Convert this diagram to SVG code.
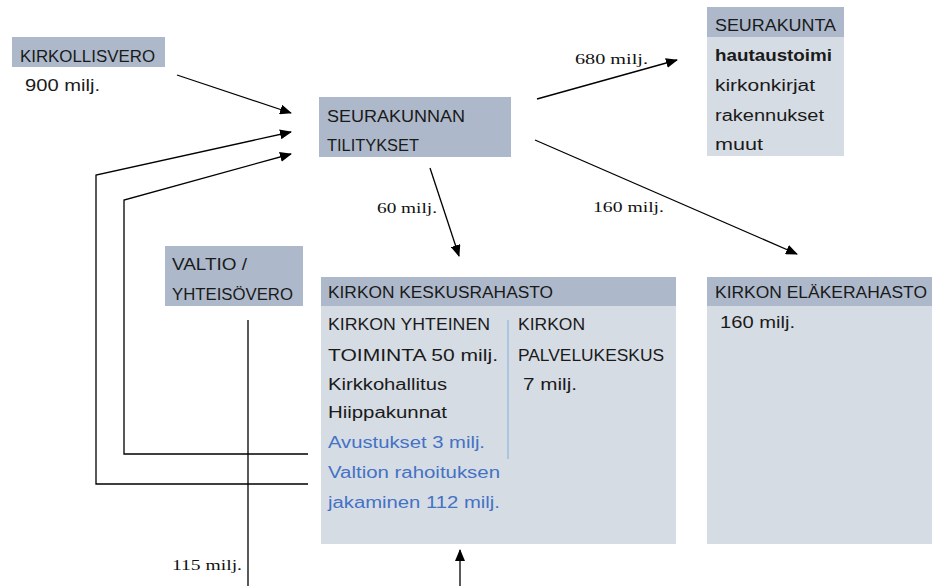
<svg xmlns="http://www.w3.org/2000/svg" width="932" height="586" viewBox="0 0 932 586">
<style>
.hd{fill:#adb9ca}
.bd{fill:#d6dce4}
.t{font-family:"Liberation Sans",Arial,sans-serif;font-size:16px;fill:#1a1a1a}
.b{fill:#4472c4}
.s{font-family:"Liberation Serif","Times New Roman",serif;font-size:15px;fill:#111}
.ln{fill:none;stroke:#000;stroke-width:1.3}
</style>
<defs>
<marker id="ah" markerWidth="12" markerHeight="10" refX="11" refY="5" orient="auto" markerUnits="userSpaceOnUse">
<path d="M0,0 L12,5 L0,10 Z" fill="#000"/>
</marker>
</defs>
<rect width="932" height="586" fill="#fff"/>
<g id="kirkollisvero">
<rect class="hd" x="12" y="37" width="153" height="30"/>
<text class="t" x="20" y="62" textLength="135" lengthAdjust="spacingAndGlyphs">KIRKOLLISVERO</text>
<text class="t" x="25" y="91" textLength="75" lengthAdjust="spacingAndGlyphs">900 milj.</text>
</g>
<g id="seurakunnan-tilitykset">
<rect class="hd" x="319" y="97" width="192" height="60"/>
<text class="t" x="327" y="122" textLength="138" lengthAdjust="spacingAndGlyphs">SEURAKUNNAN</text>
<text class="t" x="327" y="151" textLength="92" lengthAdjust="spacingAndGlyphs">TILITYKSET</text>
</g>
<g id="seurakunta">
<rect class="bd" x="707" y="7" width="137" height="149"/>
<rect class="hd" x="707" y="7" width="137" height="30"/>
<text class="t" x="715" y="31" textLength="121" lengthAdjust="spacingAndGlyphs">SEURAKUNTA</text>
<text class="t" x="715" y="61" font-weight="bold" textLength="117" lengthAdjust="spacingAndGlyphs">hautaustoimi</text>
<text class="t" x="715" y="91" textLength="100" lengthAdjust="spacingAndGlyphs">kirkonkirjat</text>
<text class="t" x="715" y="121" textLength="109" lengthAdjust="spacingAndGlyphs">rakennukset</text>
<text class="t" x="715" y="150" textLength="48" lengthAdjust="spacingAndGlyphs">muut</text>
</g>
<g id="valtio">
<rect class="hd" x="165" y="246" width="138" height="60"/>
<text class="t" x="172" y="270" textLength="75" lengthAdjust="spacingAndGlyphs">VALTIO /</text>
<text class="t" x="172" y="300" textLength="121" lengthAdjust="spacingAndGlyphs">YHTEISÖVERO</text>
</g>
<g id="keskusrahasto">
<rect class="bd" x="321" y="277" width="355" height="267"/>
<rect class="hd" x="321" y="277" width="355" height="29"/>
<text class="t" x="328" y="298" textLength="225" lengthAdjust="spacingAndGlyphs">KIRKON KESKUSRAHASTO</text>
<text class="t" x="328" y="330" textLength="162" lengthAdjust="spacingAndGlyphs">KIRKON YHTEINEN</text>
<text class="t" x="328" y="361" textLength="170" lengthAdjust="spacingAndGlyphs">TOIMINTA 50 milj.</text>
<text class="t" x="328" y="390" textLength="119" lengthAdjust="spacingAndGlyphs">Kirkkohallitus</text>
<text class="t" x="328" y="418" textLength="119" lengthAdjust="spacingAndGlyphs">Hiippakunnat</text>
<text class="t b" x="328" y="448" textLength="157" lengthAdjust="spacingAndGlyphs">Avustukset 3 milj.</text>
<text class="t b" x="328" y="478" textLength="172" lengthAdjust="spacingAndGlyphs">Valtion rahoituksen</text>
<text class="t b" x="328" y="508" textLength="172" lengthAdjust="spacingAndGlyphs">jakaminen 112 milj.</text>
<line x1="508" y1="320" x2="508" y2="459" stroke="#8fb4dc" stroke-width="1.2"/>
<text class="t" x="518" y="330" textLength="67" lengthAdjust="spacingAndGlyphs">KIRKON</text>
<text class="t" x="518" y="361" textLength="146" lengthAdjust="spacingAndGlyphs">PALVELUKESKUS</text>
<text class="t" x="523" y="390" textLength="54" lengthAdjust="spacingAndGlyphs">7 milj.</text>
</g>
<g id="elakerahasto">
<rect class="bd" x="707" y="277" width="225" height="267"/>
<rect class="hd" x="707" y="277" width="225" height="29"/>
<text class="t" x="715" y="298" textLength="212" lengthAdjust="spacingAndGlyphs">KIRKON ELÄKERAHASTO</text>
<text class="t" x="720" y="328" textLength="75" lengthAdjust="spacingAndGlyphs">160 milj.</text>
</g>
<g id="connectors">
<line class="ln" x1="177" y1="75" x2="291" y2="113" marker-end="url(#ah)"/>
<polyline class="ln" points="308,484 96,484 96,175 291,132" marker-end="url(#ah)"/>
<polyline class="ln" points="308,454 124,454 124,200 291,154" marker-end="url(#ah)"/>
<line class="ln" x1="537" y1="99" x2="677" y2="60" marker-end="url(#ah)"/>
<line class="ln" x1="535" y1="140" x2="797" y2="254" marker-end="url(#ah)"/>
<line class="ln" x1="430" y1="168" x2="459" y2="256" marker-end="url(#ah)"/>
<line class="ln" x1="248" y1="320" x2="248" y2="586"/>
<line class="ln" x1="460" y1="586" x2="460" y2="550" marker-end="url(#ah)"/>
<text class="s" x="575" y="64" textLength="73" lengthAdjust="spacingAndGlyphs">680 milj.</text>
<text class="s" x="377" y="213" textLength="60" lengthAdjust="spacingAndGlyphs">60 milj.</text>
<text class="s" x="593" y="212" textLength="71" lengthAdjust="spacingAndGlyphs">160 milj.</text>
<text class="s" x="172" y="570" textLength="70" lengthAdjust="spacingAndGlyphs">115 milj.</text>
</g>
</svg>
